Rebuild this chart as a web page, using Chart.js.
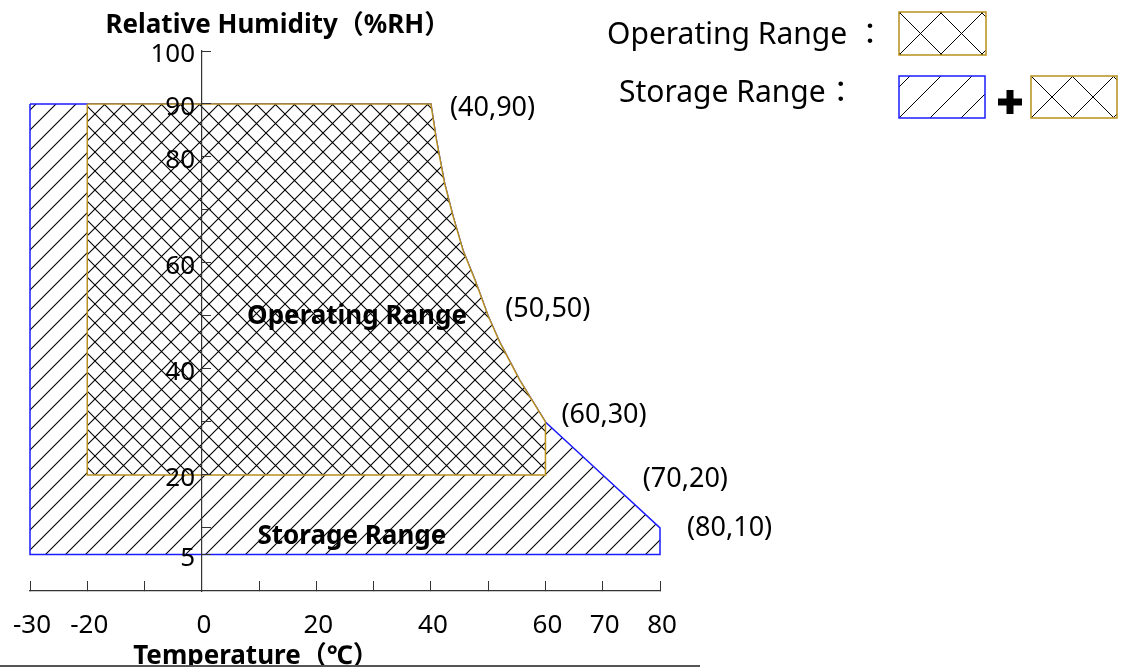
<!DOCTYPE html>
<html><head><meta charset="utf-8">
<script src="https://cdn.jsdelivr.net/npm/chart.js@4/dist/chart.umd.min.js"></script>
<style>html,body{margin:0;padding:0;background:#fff;}#wrap{width:1124px;height:667px;position:relative;}</style>
</head><body><div id="wrap"><canvas id="c" width="1124" height="667"></canvas></div>
<script>
// ---- data ----
const temperatureTicks = [-30, -20, -10, 0, 10, 20, 30, 40, 50, 60, 70, 80];
const temperatureTickLabels = [-30, -20, 0, 20, 40, 60, 70, 80];
const humidityTicks = [5, 10, 20, 30, 40, 50, 60, 70, 80, 90, 100];
const humidityTickLabels = [5, 20, 40, 60, 80, 90, 100];

const operatingTemp = [-20, 40, 41, 42.4, 43.9, 45.6, 47.7, 50, 52, 55.5, 60, 60, -20, -20];
const operatingRH   = [90, 90, 83, 75, 68.7, 62.4, 56.8, 50, 45.1, 37.9, 30, 20, 20, 90];

const storageTemp = [-30, 40, 41, 42.4, 43.9, 45.6, 47.7, 50, 52, 55.5, 60, 70, 80, 80, -30, -30];
const storageRH   = [90, 90, 83, 75, 68.7, 62.4, 56.8, 50, 45.1, 37.9, 30, 20, 10, 5, 5, 90];

const cornerLabels = ["(40,90)", "(50,50)", "(60,30)", "(70,20)", "(80,10)"];
const cornerTemp = [40, 50, 60, 70, 80];
const cornerRH = [90, 50, 30, 20, 10];

const xTitle = "Temperature（℃）";
const yTitle = "Relative Humidity（%RH）";
const operatingName = "Operating Range";
const storageName = "Storage Range";
const legendOperating = "Operating Range ：";
const legendStorage = "Storage Range：";

// ---- styling ----
const FONT = '"Noto Sans", "Noto Sans CJK KR", sans-serif';
const ORANGE = '#b8901c';
const BLUE = '#1c1cff';
const INK = '#000000';

const canvas = document.getElementById('c');
const mainCtx = canvas.getContext('2d');

function makeHatch(period, cross, bg) {
  const t = document.createElement('canvas');
  t.width = period; t.height = period;
  const g = t.getContext('2d');
  if (bg) { g.fillStyle = bg; g.fillRect(0, 0, period, period); }
  g.strokeStyle = INK; g.lineWidth = 1.1;
  g.beginPath();
  for (let k = -1; k <= 1; k++) {
    g.moveTo(k * period - 1, period + 1); g.lineTo(k * period + period + 1, -1);
    if (cross) { g.moveTo(k * period - 1, -1); g.lineTo(k * period + period + 1, period + 1); }
  }
  g.stroke();
  return mainCtx.createPattern(t, 'repeat');
}
const crossPattern = makeHatch(19, true, '#ffffff');
const slashPattern = makeHatch(20, false, null);

function toPoints(xs, ys) { return xs.map((v, i) => ({x: v, y: ys[i]})); }

const labelOffsets = [[19, 12], [17, 1], [16, 1], [40, 12], [27, 8]];

const textPlugin = {
  id: 'texts',
  afterDraw(chart) {
    const {ctx, scales: {x, y}} = chart;
    ctx.save();
    ctx.fillStyle = '#000';
    ctx.textBaseline = 'alphabetic';
    // axis titles
    ctx.font = 'bold 26px ' + FONT;
    ctx.textAlign = 'center';
    ctx.fillText(yTitle, x.getPixelForValue(0) + 76, 33);
    ctx.fillText(xTitle, 256, 664);
    // region names
    ctx.fillText(operatingName, x.getPixelForValue(27.1), y.getPixelForValue(50) + 8);
    ctx.fillText(storageName, x.getPixelForValue(26.2), y.getPixelForValue(8.7) + 9);
    // corner labels
    ctx.font = '27px ' + FONT;
    ctx.textAlign = 'left';
    cornerLabels.forEach((lab, i) => {
      const px = x.getPixelForValue(cornerTemp[i]) + labelOffsets[i][0];
      const py = y.getPixelForValue(cornerRH[i]) + labelOffsets[i][1];
      ctx.fillText(lab, px, py);
    });
    // legend
    ctx.font = '30px ' + FONT;
    ctx.fillText(legendOperating, 607, 44);
    ctx.fillText(legendStorage, 619, 102);
    function box(bx, by, bw, bh, color, period, cross) {
      ctx.save();
      ctx.beginPath(); ctx.rect(bx, by, bw, bh); ctx.clip();
      ctx.strokeStyle = INK; ctx.lineWidth = 1;
      ctx.beginPath();
      for (let k = -4; k < bw / period + 4; k++) {
        const sx = bx + k * period;
        ctx.moveTo(sx, by + bh); ctx.lineTo(sx + bh, by);
        if (cross) { ctx.moveTo(sx, by); ctx.lineTo(sx + bh, by + bh); }
      }
      ctx.stroke();
      ctx.restore();
      ctx.strokeStyle = color; ctx.lineWidth = 1.5;
      ctx.strokeRect(bx, by, bw, bh);
    }
    box(899, 12, 87, 43, ORANGE, 41, true);
    box(899, 76, 86, 42, BLUE, 31, false);
    box(1031, 76, 86, 42, ORANGE, 41, true);
    // plus sign
    ctx.fillStyle = '#000';
    ctx.fillRect(998, 98.5, 24, 7);
    ctx.fillRect(1006.5, 90, 7, 24);
    // bottom rule
    ctx.fillStyle = '#555';
    ctx.fillRect(0, 665, 700, 2);
    ctx.restore();
  }
};

new Chart(mainCtx, {
  type: 'line',
  data: {
    datasets: [
      {
        label: operatingName,
        data: toPoints(operatingTemp, operatingRH),
        borderColor: ORANGE, borderWidth: 1.5,
        backgroundColor: crossPattern, fill: 'shape',
        pointRadius: 0, tension: 0, clip: false, borderJoinStyle: 'miter'
      },
      {
        label: storageName,
        data: toPoints(storageTemp, storageRH),
        borderColor: BLUE, borderWidth: 1.5,
        backgroundColor: slashPattern, fill: 'shape',
        pointRadius: 0, tension: 0, clip: false, borderJoinStyle: 'miter'
      }
    ]
  },
  options: {
    responsive: false, animation: false, devicePixelRatio: 1,
    layout: {padding: {left: 30, right: 464, top: 51, bottom: 26}},
    plugins: {legend: {display: false}, tooltip: {enabled: false}, title: {display: false}},
    scales: {
      x: {
        type: 'linear', min: -30, max: 80, position: 'bottom',
        afterBuildTicks: s => { s.ticks = temperatureTicks.map(v => ({value: v})); },
        afterFit: s => { s.height = 50; s.paddingLeft = 0; s.paddingRight = 0; },
        ticks: {
          autoSkip: false, maxRotation: 0, padding: 29, labelOffset: 2, color: '#000', z: 1,
          font: {family: FONT, size: 26},
          callback: v => temperatureTickLabels.includes(v) ? String(v) : ''
        },
        grid: {drawOnChartArea: false, drawTicks: true, tickLength: -10, color: '#333', lineWidth: 1, z: 1},
        border: {display: true, color: '#333', width: 1.2, z: 1}
      },
      y: {
        type: 'linear', min: -1.9, max: 100, position: {x: 0},
        afterBuildTicks: s => { s.ticks = humidityTicks.map(v => ({value: v})); },
        ticks: {
          autoSkip: false, padding: 0, labelOffset: 4, color: '#000', z: 1,
          font: {family: FONT, size: 26},
          callback: v => humidityTickLabels.includes(v) ? String(v) + ' ' : ''
        },
        grid: {drawOnChartArea: false, drawTicks: true, tickLength: -10, color: '#333', lineWidth: 1, z: 1},
        border: {display: true, color: '#333', width: 1.2, z: 1}
      }
    }
  },
  plugins: [textPlugin]
});
</script>
</body></html>
